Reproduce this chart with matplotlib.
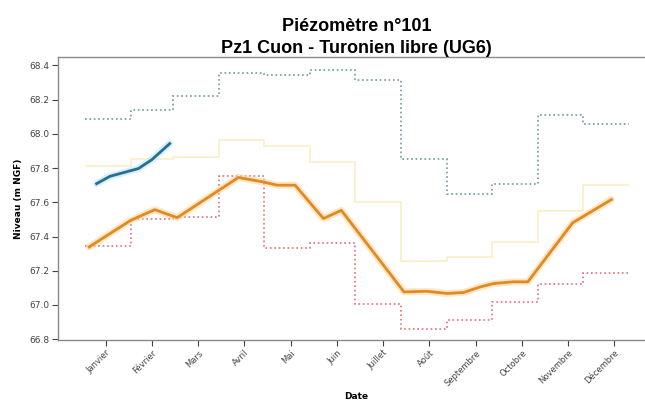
import matplotlib
matplotlib.use("Agg")
import matplotlib.pyplot as plt
import numpy as np

# ---- data ----
month_labels = ["Janvier", "Février", "Mars", "Avril", "Mai", "Juin", "Juillet",
                "Août", "Septembre", "Octobre", "Novembre", "Décembre"]
tick_days = [15, 46, 77, 108, 139, 170, 201, 232, 263, 294, 325, 356]
month_edges = [1, 32, 60, 91, 121, 152, 182, 213, 244, 274, 305, 335, 366]

max_vals = [68.085, 68.137, 68.219, 68.355, 68.342, 68.371, 68.312, 67.855, 67.65, 67.709, 68.108, 68.057]
min_vals = [67.343, 67.505, 67.512, 67.752, 67.333, 67.362, 67.008, 66.858, 66.911, 67.018, 67.125, 67.187]
q_vals = [67.81, 67.855, 67.865, 67.966, 67.93, 67.835, 67.60, 67.255, 67.28, 67.37, 67.55, 67.70]

prev_days = [4, 32, 48, 63, 104, 120, 130, 142, 161, 173, 215, 230, 244, 255, 266, 275, 288, 298, 328, 354]
prev_vals = [67.339, 67.495, 67.557, 67.51, 67.745, 67.72, 67.70, 67.70, 67.505, 67.553, 67.076, 67.08,
             67.067, 67.073, 67.105, 67.125, 67.135, 67.135, 67.48, 67.616]

cur_days = [9, 18, 31, 37, 46, 58]
cur_vals = [67.709, 67.752, 67.783, 67.797, 67.849, 67.943]

# ---- figure ----
fig = plt.figure(figsize=(6.45, 4.03), dpi=100)
ax = fig.add_axes([57.5 / 645, 63 / 403, (655 - 57.5) / 645, (340 - 57.4) / 403])

ax.stairs(q_vals, month_edges, color="#f6dc85", lw=1.2, alpha=0.45, baseline=None)
ax.stairs(max_vals, month_edges, color="#6f9a9c", lw=1.2, ls=":", baseline=None)
ax.stairs(min_vals, month_edges, color="#e0707a", lw=1.2, ls=":", baseline=None)

ax.plot(prev_days, prev_vals, color="#ffd6a0", lw=5, alpha=0.6, solid_capstyle="round")
ax.plot(prev_days, prev_vals, color="#e08a22", lw=2)
ax.plot(cur_days, cur_vals, color="#bfe3f5", lw=5, alpha=0.6, solid_capstyle="round")
ax.plot(cur_days, cur_vals, color="#24708f", lw=2)

ax.set_xlim(-17.2, 383.2)
ax.set_ylim(66.795, 68.447)
ax.set_yticks([66.8, 67.0, 67.2, 67.4, 67.6, 67.8, 68.0, 68.2, 68.4])
ax.set_xticks(tick_days)
ax.set_xticklabels(month_labels, rotation=45, ha="right", rotation_mode="anchor")

for s in ["left", "bottom", "top", "right"]:
    ax.spines[s].set_color("#8a8a8a")
    ax.spines[s].set_linewidth(1.0)
ax.tick_params(axis="both", colors="#444444", length=4, width=0.8, pad=2)
ax.tick_params(axis="y", labelsize=6.5)
ax.tick_params(axis="x", labelsize=6)

ax.set_xlabel("Date", fontsize=6.5, fontweight="bold", labelpad=3)
ax.set_ylabel("Niveau (m NGF)", fontsize=6.5, fontweight="bold", labelpad=4)
ax.set_title("Piézomètre n°101\nPz1 Cuon - Turonien libre (UG6)", fontsize=13,
             fontweight="bold", pad=3, family="Liberation Sans", linespacing=1.4)

fig.savefig("out.png", dpi=100)
